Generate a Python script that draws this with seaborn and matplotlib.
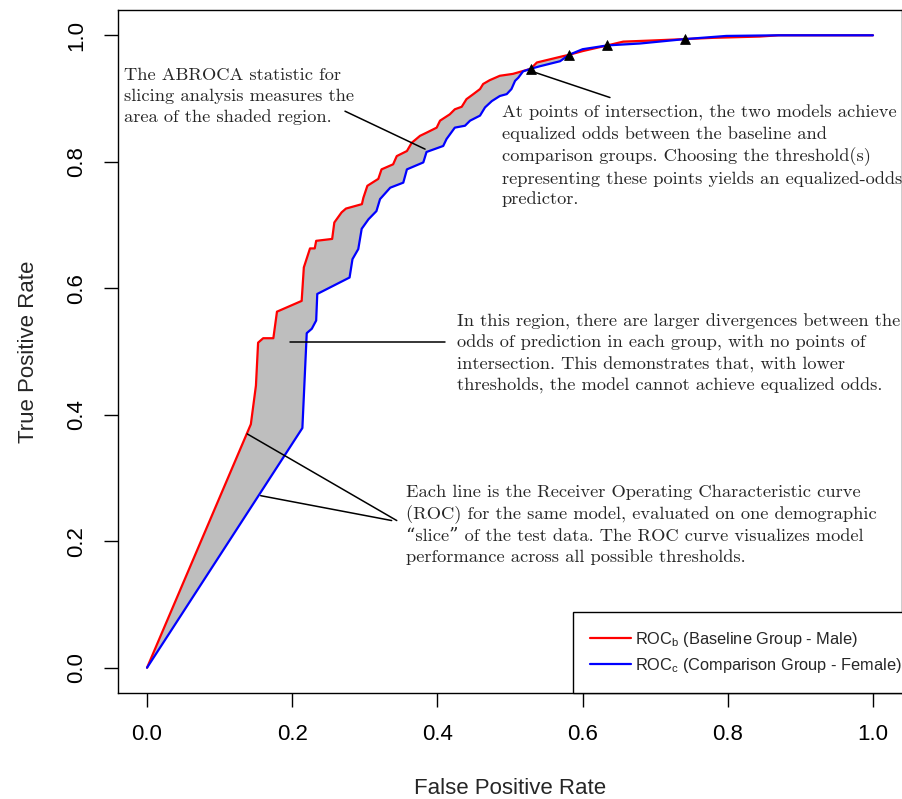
"""ABROCA slicing analysis figure: ROC curves for two demographic groups."""

import numpy as np
import matplotlib
matplotlib.use("Agg")
import matplotlib.pyplot as plt
import seaborn as sns

# ROC of the baseline group (male)
fpr_male = [0, 0.143, 0.150, 0.153, 0.160, 0.174, 0.179, 0.213, 0.216, 0.2245,
            0.231, 0.233, 0.255, 0.258, 0.268, 0.274, 0.296, 0.298, 0.3035, 0.3186,
            0.323, 0.339, 0.344, 0.358, 0.3646, 0.376, 0.385, 0.399, 0.4036, 0.417,
            0.424, 0.4335, 0.440, 0.4495, 0.4587, 0.463, 0.472, 0.486, 0.504, 0.5285,
            0.537, 0.573, 0.581, 0.600, 0.634, 0.656, 0.700, 0.741, 0.780, 0.844,
            0.870, 1.0]
tpr_male = [0, 0.385, 0.446, 0.514, 0.521, 0.521, 0.563, 0.580, 0.633, 0.663,
            0.663, 0.675, 0.678, 0.704, 0.720, 0.726, 0.733, 0.743, 0.762, 0.773,
            0.788, 0.796, 0.809, 0.817, 0.830, 0.841, 0.846, 0.854, 0.865, 0.875,
            0.883, 0.887, 0.899, 0.907, 0.915, 0.923, 0.929, 0.936, 0.939, 0.947,
            0.957, 0.967, 0.969, 0.975, 0.984, 0.990, 0.992, 0.994, 0.996, 0.998,
            1.0, 1.0]

# ROC of the comparison group (female)
fpr_female = [0, 0.214, 0.220, 0.227, 0.233, 0.2345, 0.279, 0.283, 0.291, 0.2957,
              0.305, 0.316, 0.321, 0.335, 0.353, 0.358, 0.3806, 0.385, 0.408, 0.4126,
              0.424, 0.438, 0.445, 0.4587, 0.4656, 0.475, 0.486, 0.4955, 0.502, 0.507,
              0.5115, 0.518, 0.5285, 0.541, 0.569, 0.581, 0.600, 0.634, 0.679, 0.741,
              0.798, 0.870, 1.0]
tpr_female = [0, 0.379, 0.529, 0.536, 0.549, 0.591, 0.617, 0.646, 0.662, 0.694,
              0.709, 0.722, 0.741, 0.759, 0.767, 0.788, 0.799, 0.8155, 0.825, 0.836,
              0.854, 0.857, 0.865, 0.873, 0.886, 0.896, 0.904, 0.907, 0.915, 0.928,
              0.933, 0.943, 0.947, 0.951, 0.959, 0.969, 0.978, 0.984, 0.987, 0.994,
              0.999, 1.0, 1.0]

# points where the two curves cross
cross_fpr = [0.5285, 0.581, 0.634, 0.741]
cross_tpr = [0.947, 0.969, 0.984, 0.994]

ticks = [0.0, 0.2, 0.4, 0.6, 0.8, 1.0]
tick_labels = ["0.0", "0.2", "0.4", "0.6", "0.8", "1.0"]

label_male = r"ROC$_\mathregular{b}$ (Baseline Group - Male)"
label_female = r"ROC$_\mathregular{c}$ (Comparison Group - Female)"

note_abroca = ("The ABROCA statistic for\n"
               "slicing analysis measures the\n"
               "area of the shaded region.")
note_cross = ("At points of intersection, the two models achieve\n"
              "equalized odds between the baseline and\n"
              "comparison groups. Choosing the threshold(s)\n"
              "representing these points yields an equalized-odds\n"
              "predictor.")
note_region = ("In this region, there are larger divergences between the\n"
               "odds of prediction in each group, with no points of\n"
               "intersection. This demonstrates that, with lower\n"
               "thresholds, the model cannot achieve equalized odds.")
note_roc = ("Each line is the Receiver Operating Characteristic curve\n"
            "(ROC) for the same model, evaluated on one demographic\n"
            "\u201cslice\u201d of the test data. The ROC curve visualizes model\n"
            "performance across all possible thresholds.")

sns.set_style("ticks")
plt.rcParams["font.family"] = ["Liberation Sans", "DejaVu Sans"]
serif = ["cmr10", "DejaVu Serif"]

fig = plt.figure(figsize=(9.03, 7.99), dpi=100)
ax = fig.add_axes([118 / 903, 1 - 693 / 799, 784 / 903, 683 / 799])

# shaded area between the curves (ABROCA)
poly_x = np.concatenate([fpr_male, fpr_female[::-1]])
poly_y = np.concatenate([tpr_male, tpr_female[::-1]])
ax.fill(poly_x, poly_y, color="#BEBEBE", lw=0, zorder=1)

sns.lineplot(x=fpr_male, y=tpr_male, sort=False, estimator=None, color="#FF0000",
             lw=1.6, ax=ax, label=label_male, zorder=3)
sns.lineplot(x=fpr_female, y=tpr_female, sort=False, estimator=None, color="#0000FF",
             lw=1.6, ax=ax, label=label_female, zorder=3)
sns.scatterplot(x=cross_fpr, y=cross_tpr, marker="^", color="black", s=50,
                edgecolor="black", ax=ax, zorder=5, legend=False)

# annotation pointers
ax.plot([0.2727, 0.383], [0.880, 0.820], color="black", lw=1.1, zorder=4)
ax.plot([0.5285, 0.6377], [0.9436, 0.9016], color="black", lw=1.1, zorder=4)
ax.plot([0.197, 0.4105], [0.515, 0.515], color="black", lw=1.1, zorder=4)
ax.plot([0.138, 0.344], [0.3697, 0.2327], color="black", lw=1.1, zorder=4)
ax.plot([0.1566, 0.337], [0.272, 0.2327], color="black", lw=1.1, zorder=4)

txt = dict(transform=ax.transAxes, ha="left", va="top", fontsize=13.25,
           family=serif, linespacing=1.38, zorder=6)
ax.text(0.0077, 0.916, note_abroca, linespacing=1.45,
        **{k: v for k, v in txt.items() if k != "linespacing"})
ax.text(0.4898, 0.861, note_cross, **txt)
ax.text(0.432, 0.555, note_region, **txt)
ax.text(0.367, 0.305, note_roc, **txt)

ax.set_xlim(-0.04, 1.04)
ax.set_ylim(-0.04, 1.04)
ax.set_xticks(ticks)
ax.set_xticklabels(tick_labels)
ax.set_yticks(ticks)
ax.set_yticklabels(tick_labels, rotation=90, va="center")
ax.tick_params(direction="out", length=10, width=1, pad=12, labelsize=16,
               colors="black")
for sp in ax.spines.values():
    sp.set_color("black")
    sp.set_linewidth(1.0)
ax.set_xlabel("False Positive Rate", fontsize=16, labelpad=24)
ax.set_ylabel("True Positive Rate", fontsize=16, labelpad=20)

leg = ax.legend(loc="lower right", bbox_to_anchor=(1.023, 0.0), borderaxespad=0,
                fontsize=11.75, frameon=True, fancybox=False, framealpha=1,
                edgecolor="black", handlelength=2.5, handletextpad=0.25,
                labelspacing=0.45, borderpad=1.1)
leg.get_frame().set_linewidth(1.0)

fig.savefig("out.png", dpi=100)
plt.close(fig)
